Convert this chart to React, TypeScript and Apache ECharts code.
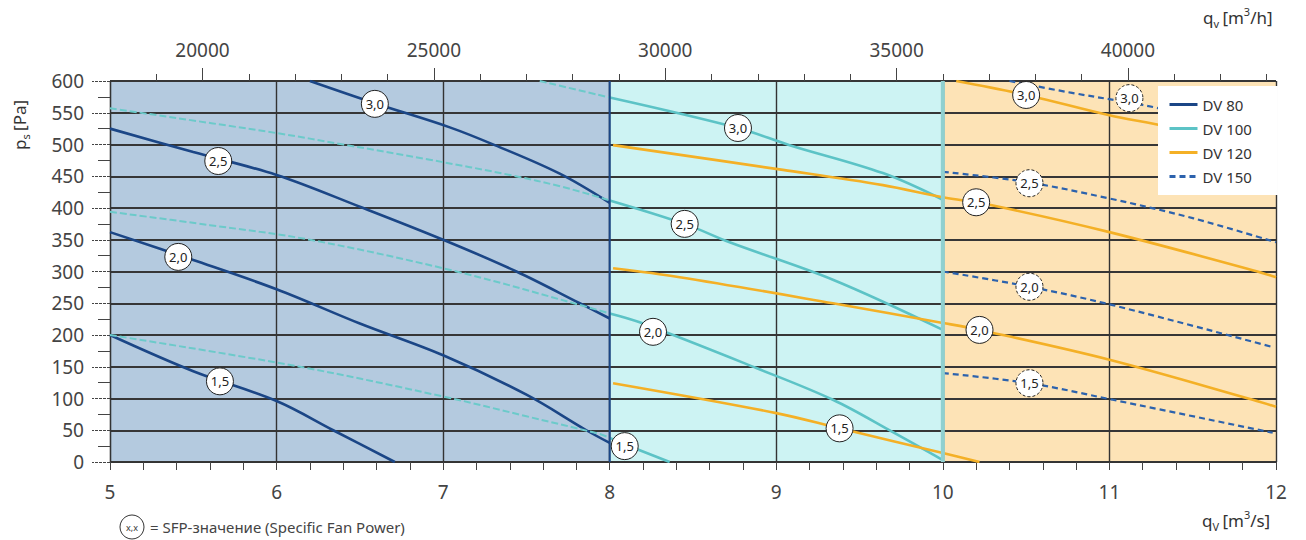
import React, { useEffect, useRef } from 'react';
import * as echarts from 'echarts';

// ---------- data ----------
const xRange = [5, 12];
const yRange = [0, 600];
const topRange = [18000, 43200];
const topMajorTicks = [20000, 25000, 30000, 35000, 40000];
const topMinorTicks = [19000, 20000, 21000, 22000, 23000, 24000, 25000, 26000, 27000, 28000, 29000, 30000, 31000, 32000, 33000, 34000, 35000, 36000, 37000, 38000, 39000, 40000, 41000, 42000, 43000];

const bandRanges = [[5, 8], [8, 10], [10, 12]];
const boundaries = [8, 10];

// DV 80 (range 5..8)
const dv80_30 = [[6.2, 600], [6.59, 565], [7.04, 527], [7.31, 499], [7.7, 454], [8, 408]];
const dv80_25 = [[5, 525], [5.5, 488], [6, 452], [6.5, 402], [7, 350], [7.44, 300], [7.82, 250], [8, 226]];
const dv80_20 = [[5, 362], [5.5, 318], [6, 272], [6.5, 218], [7, 168], [7.5, 106], [7.86, 50], [8, 30]];
const dv80_15 = [[5, 200], [5.5, 143], [6, 96], [6.34, 50], [6.71, 0]];

// DV 100 (dashed part 5..8, solid part 8..10)
const dv100_30a = [[7.58, 600], [8, 574]];
const dv100_30b = [[8, 574], [8.77, 526], [9.08, 499], [9.64, 455], [10, 413]];
const dv100_25a = [[5, 557], [6, 518], [6.4, 500], [6.92, 476], [7.4, 452], [7.72, 433], [8, 412]];
const dv100_25b = [[8, 412], [8.45, 375], [8.72, 346], [9.34, 287], [10, 208]];
const dv100_20a = [[5, 394], [5.6, 373], [6.2, 350], [7.08, 300], [7.88, 243], [8, 234]];
const dv100_20b = [[8, 234], [8.18, 220], [8.88, 148], [9.34, 98], [9.7, 47], [10, 3]];
const dv100_15a = [[5, 200], [6.14, 150], [7.02, 102], [7.5, 72], [7.94, 44], [8, 38]];
const dv100_15b = [[8, 38], [8.09, 28], [8.36, 0]];

// DV 120 (range 8..12)
const dv120_30 = [[10.08, 600], [10.5, 578], [11, 546], [11.36, 527], [12, 483]];
const dv120_25 = [[8.02, 499], [9.04, 460], [9.64, 436], [10, 417], [10.28, 405], [11, 362], [11.86, 302], [12, 291]];
const dv120_20 = [[8.02, 305], [8.42, 291], [9.34, 250], [10, 219], [10.22, 208], [11, 161], [11.86, 98], [12, 87]];
const dv120_15 = [[8.02, 124], [9, 77], [9.38, 53], [10, 14], [10.22, 0]];

// DV 150 (range 10..12)
const dv150_30 = [[10.4, 600], [10.76, 582], [11.12, 566], [11.28, 558], [12, 515]];
const dv150_25 = [[10, 457], [10.5, 441], [11, 415], [11.5, 384], [12, 346]];
const dv150_20 = [[10, 300], [10.52, 276], [11.02, 247], [11.98, 181]];
const dv150_15 = [[10, 140], [10.52, 124], [11.02, 98], [11.98, 46]];

// SFP labels [x, y, text]
const labels80 = [[6.59, 564, '3,0'], [5.65, 474, '2,5'], [5.41, 323, '2,0'], [5.66, 127, '1,5']];
const labels100 = [[8.77, 526, '3,0'], [8.45, 375, '2,5'], [8.26, 205, '2,0'], [8.09, 25, '1,5']];
const labels120 = [[10.5, 578, '3,0'], [10.2, 409, '2,5'], [10.22, 208, '2,0'], [9.38, 53, '1,5']];
const labels150 = [[11.12, 573, '3,0'], [10.52, 439, '2,5'], [10.52, 276, '2,0'], [10.52, 124, '1,5']];

const legendNames = ['DV 80', 'DV 100', 'DV 120', 'DV 150'];

// ---------- styles ----------
const FONT = 'Noto Sans';
const C80 = '#1b4686';
const C100 = '#5cc3c6';
const C120 = '#f4b026';
const C150 = '#2c62ad';
const bandColors = ['#b4cadf', '#cdf3f3', '#fde3b6'];

function lineSeries(name: string, data: number[][], color: string, width: number, type: any = 'solid') {
  return {
    type: 'line',
    name,
    data,
    smooth: 0.35,
    symbol: 'none',
    showSymbol: false,
    z: 3,
    lineStyle: { color, width, type },
    itemStyle: { color },
  };
}

function labelSeries(name: string, data: any[], dashed: boolean) {
  return {
    type: 'scatter',
    name,
    data,
    symbol: 'circle',
    symbolSize: 27,
    z: 6,
    itemStyle: {
      color: '#ffffff',
      borderColor: '#222',
      borderWidth: 1,
      borderType: dashed ? [3, 2] : 'solid',
      opacity: 1,
    },
    label: {
      show: true,
      position: 'inside',
      formatter: (p: any) => p.value[2],
      fontSize: 13,
      fontFamily: FONT,
      color: '#222',
    },
  };
}

const rich = {
  q: { fontSize: 17, fontFamily: FONT, fill: '#333' },
  s: { fontSize: 11, fontFamily: FONT, fill: '#333', verticalAlign: 'bottom', padding: [12, 0, 0, 0] },
  p: { fontSize: 11, fontFamily: FONT, fill: '#333', verticalAlign: 'top', padding: [0, 0, 10, 0] },
};

export default function App() {
  const ref = useRef<HTMLDivElement>(null);

  useEffect(() => {
    if (!ref.current) return;
    const chart = echarts.init(ref.current, undefined, { renderer: 'svg' });

    const option: any = {
      animation: false,
      backgroundColor: '#ffffff',
      textStyle: { fontFamily: FONT },
      grid: { left: 110, right: 30, top: 81, bottom: 78, containLabel: false },
      legend: {
        data: legendNames,
        orient: 'vertical',
        left: 1158,
        top: 86,
        backgroundColor: '#ffffff',
        padding: [11, 26, 11, 10],
        itemGap: 9,
        itemWidth: 28,
        itemHeight: 14,
        selectedMode: false,
        z: 20,
        itemStyle: { opacity: 0 },
        lineStyle: { width: 3 },
        textStyle: { fontSize: 15, color: '#333', fontFamily: FONT },
      },
      xAxis: [
        {
          type: 'value',
          position: 'bottom',
          min: xRange[0],
          max: xRange[1],
          interval: 1,
          axisLine: { show: true, lineStyle: { color: '#333', width: 1.2 } },
          axisTick: { show: true, length: 8, lineStyle: { color: '#444' } },
          minorTick: { show: true, splitNumber: 5, length: 8, lineStyle: { color: '#444' } },
          axisLabel: { fontSize: 19, color: '#444', margin: 20, fontFamily: FONT },
          splitLine: { show: true, lineStyle: { color: '#333', width: 1.4 } },
        },
        {
          type: 'value',
          position: 'top',
          min: topRange[0],
          max: topRange[1],
          axisLine: { show: false },
          axisTick: { show: true, length: 7, customValues: topMinorTicks, lineStyle: { color: '#444' } },
          axisLabel: { show: false },
          splitLine: { show: false },
        },
        {
          type: 'value',
          position: 'top',
          min: topRange[0],
          max: topRange[1],
          axisLine: { show: false },
          axisTick: { show: true, length: 13, customValues: topMajorTicks, lineStyle: { color: '#444' } },
          axisLabel: {
            show: true,
            customValues: topMajorTicks,
            formatter: (v: number) => String(v),
            fontSize: 19,
            color: '#444',
            margin: 22,
            fontFamily: FONT,
          },
          splitLine: { show: false },
        },
      ],
      yAxis: {
        type: 'value',
        min: yRange[0],
        max: yRange[1],
        interval: 50,
        axisLine: { show: true, lineStyle: { color: '#333', width: 1.2 } },
        axisTick: { show: true, length: 18, lineStyle: { color: '#444', type: [3, 1] } },
        minorTick: { show: true, splitNumber: 2, length: 12, lineStyle: { color: '#444' } },
        axisLabel: { fontSize: 19, color: '#444', margin: 26, fontFamily: FONT },
        splitLine: { show: true, lineStyle: { color: '#363636', width: 1.8 } },
      },
      graphic: [
        {
          type: 'text',
          left: 1203,
          top: 6,
          z: 30,
          style: { text: '{q|q}{s|v} {q|[m}{p|3}{q|/h]}', rich },
        },
        {
          type: 'text',
          left: 1202,
          top: 509,
          z: 30,
          style: { text: '{q|q}{s|V} {q|[m}{p|3}{q|/s]}', rich },
        },
        {
          type: 'text',
          x: 8,
          y: 150,
          rotation: Math.PI / 2,
          z: 30,
          style: { text: '{q|p}{s|s} {q|[Pa]}', rich },
        },
        {
          type: 'circle',
          shape: { cx: 132, cy: 527, r: 12 },
          z: 30,
          style: { fill: '#fff', stroke: '#333', lineWidth: 1 },
        },
        {
          type: 'text',
          x: 132,
          y: 527,
          z: 31,
          style: { text: 'x,x', fontSize: 9, fontFamily: FONT, fill: '#333', align: 'center', verticalAlign: 'middle' },
        },
        {
          type: 'text',
          x: 150,
          y: 527,
          z: 30,
          style: { text: '= SFP-значение (Specific Fan Power)', fontSize: 15, fontFamily: FONT, fill: '#444', verticalAlign: 'middle' },
        },
      ],
      series: [
        {
          type: 'custom',
          name: 'bands',
          z: -1,
          silent: true,
          data: bandRanges,
          encode: { x: [0, 1] },
          renderItem: (params: any, api: any) => {
            const a = api.coord([api.value(0), yRange[1]]);
            const b = api.coord([api.value(1), yRange[0]]);
            return {
              type: 'rect',
              shape: { x: a[0], y: a[1], width: b[0] - a[0], height: b[1] - a[1] },
              style: { fill: bandColors[params.dataIndex] },
            };
          },
        },
        {
          type: 'line',
          name: 'border8',
          data: [[boundaries[0], yRange[0]], [boundaries[0], yRange[1]]],
          symbol: 'none',
          z: 4,
          lineStyle: { color: C80, width: 2 },
        },
        {
          type: 'line',
          name: 'border10',
          data: [[boundaries[1], yRange[0]], [boundaries[1], yRange[1]]],
          symbol: 'none',
          z: 4,
          lineStyle: { color: '#8fd0d0', width: 4 },
        },
        lineSeries('DV 80', dv80_30, C80, 2.6),
        lineSeries('DV 80', dv80_25, C80, 2.6),
        lineSeries('DV 80', dv80_20, C80, 2.6),
        lineSeries('DV 80', dv80_15, C80, 2.6),
        lineSeries('DV 100', dv100_30b, C100, 2.6),
        lineSeries('DV 100', dv100_25b, C100, 2.6),
        lineSeries('DV 100', dv100_20b, C100, 2.6),
        lineSeries('DV 100', dv100_15b, C100, 2.6),
        lineSeries('DV 100x', dv100_30a, '#6ccaca', 2, [7, 3]),
        lineSeries('DV 100x', dv100_25a, '#6ccaca', 2, [7, 3]),
        lineSeries('DV 100x', dv100_20a, '#6ccaca', 2, [7, 3]),
        lineSeries('DV 100x', dv100_15a, '#6ccaca', 2, [7, 3]),
        lineSeries('DV 120', dv120_30, C120, 2.6),
        lineSeries('DV 120', dv120_25, C120, 2.6),
        lineSeries('DV 120', dv120_20, C120, 2.6),
        lineSeries('DV 120', dv120_15, C120, 2.6),
        lineSeries('DV 150', dv150_30, C150, 2.2, [6, 4]),
        lineSeries('DV 150', dv150_25, C150, 2.2, [6, 4]),
        lineSeries('DV 150', dv150_20, C150, 2.2, [6, 4]),
        lineSeries('DV 150', dv150_15, C150, 2.2, [6, 4]),
        labelSeries('lbl80', labels80, false),
        labelSeries('lbl100', labels100, false),
        labelSeries('lbl120', labels120, false),
        labelSeries('lbl150', labels150, true),
      ],
    };

    chart.setOption(option);
    return () => chart.dispose();
  }, []);

  return (
    <div
      ref={ref}
      style={{ position: 'fixed', left: 0, top: 0, width: 1306, height: 540, background: '#fff' }}
    />
  );
}
